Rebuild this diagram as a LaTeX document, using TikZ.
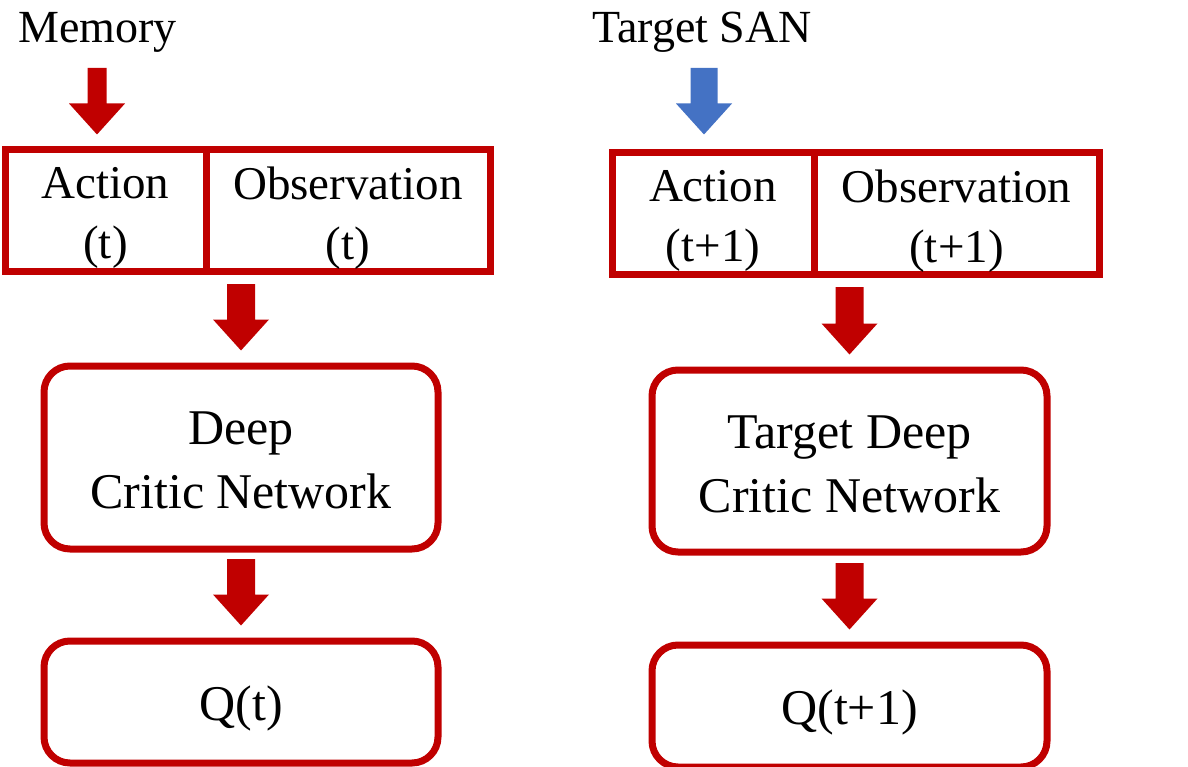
\documentclass[tikz,border=0pt]{standalone}
\usepackage{fontspec}
\setmainfont{Liberation Serif}
\usetikzlibrary{calc}
\definecolor{boxred}{HTML}{C00000}
\definecolor{arrowblue}{HTML}{4472C4}
% Wide block arrow pointing down: colour, half shaft width, tail, tip
\newcommand\blockdown[4]{%
  \fill[#1] let \p1=(#3), \p2=(#4) in
    (\x1-#2,\y1) -- (\x1+#2,\y1) -- (\x1+#2,\y2+31pt) -- (\x1+28pt,\y2+31pt)
    -- (\x1,\y2) -- (\x1-28pt,\y2+31pt) -- (\x1-#2,\y2+31pt) -- cycle;}
\begin{document}
\begin{tikzpicture}[x=1pt,y=-1pt,
  frame/.style={draw=boxred, line width=7pt, inner sep=0pt},
  inbox/.style={frame, minimum height=122pt},
  netbox/.style={frame, rounded corners=26pt},
  smalltxt/.style={align=center, inner sep=0pt, font=\fontsize{47}{60}\selectfont},
  bigtxt/.style={align=center, inner sep=0pt, font=\fontsize{50}{64}\selectfont},
  heading/.style={font=\fontsize{46}{56}\selectfont, inner sep=0pt, anchor=base west}]
\useasboundingbox (0,0) rectangle (1188,767);

% left column
\node[heading] (mem) at (18,43) {Memory};
\node[inbox, minimum width=201pt] (act) at (105.5,211) {};
\node[inbox, minimum width=284pt] (obs) at (348,211) {};
\node[netbox, minimum width=394pt, minimum height=183pt] (crit) at (241,457.5) {};
\node[netbox, minimum width=394pt, minimum height=122pt] (q) at (241,702) {};
\node[smalltxt] (actl) at ([yshift=-7pt]act.center) {Action\\(t)};
\node[smalltxt] (obsl) at ([yshift=-7pt]obs.center) {Observation\\(t)};
\node[bigtxt] (critl) at ([yshift=-3pt]crit.center) {Deep\\Critic Network};
\node[bigtxt] (ql) at ([yshift=-6pt]q.center) {Q(t)};

% right column
\node[heading] (tsan) at (592,43) {Target SAN};
\node[inbox, minimum width=202pt] (tact) at (713,214) {};
\node[inbox, minimum width=285pt] (tobs) at (956.5,214) {};
\node[netbox, minimum width=395pt, minimum height=182pt] (tcrit) at (849.5,461) {};
\node[netbox, minimum width=395pt, minimum height=122pt] (tq) at (849.5,706) {};
\node[smalltxt] (tactl) at ([yshift=-7pt]tact.center) {Action\\(t+1)};
\node[smalltxt] (tobsl) at ([yshift=-7pt]tobs.center) {Observation\\(t+1)};
\node[bigtxt] (tcritl) at ([yshift=-3pt]tcrit.center) {Target Deep\\Critic Network};
\node[bigtxt] (tql) at ([yshift=-6pt]tq.center) {Q(t+1)};

% arrow tails
\coordinate (memtail) at (97,68);
\coordinate (tsantail) at (704,68);
\coordinate (obstail) at (241,284);
\coordinate (crittail) at (241,559);
\coordinate (tobstail) at (849.5,287);
\coordinate (tcrittail) at (849.5,563);

% arrows
\blockdown{boxred}{9.5pt}{memtail}{$(memtail |- act.north)+(0,-12)$}
\blockdown{arrowblue}{13.5pt}{tsantail}{$(tsantail |- tact.north)+(0,-15)$}
\blockdown{boxred}{14pt}{obstail}{$(obstail |- crit.north)+(0,-12)$}
\blockdown{boxred}{14pt}{crittail}{$(crittail |- q.north)+(0,-12)$}
\blockdown{boxred}{14pt}{tobstail}{$(tobstail |- tcrit.north)+(0,-12)$}
\blockdown{boxred}{14pt}{tcrittail}{$(tcrittail |- tq.north)+(0,-12)$}
\end{tikzpicture}
\end{document}
